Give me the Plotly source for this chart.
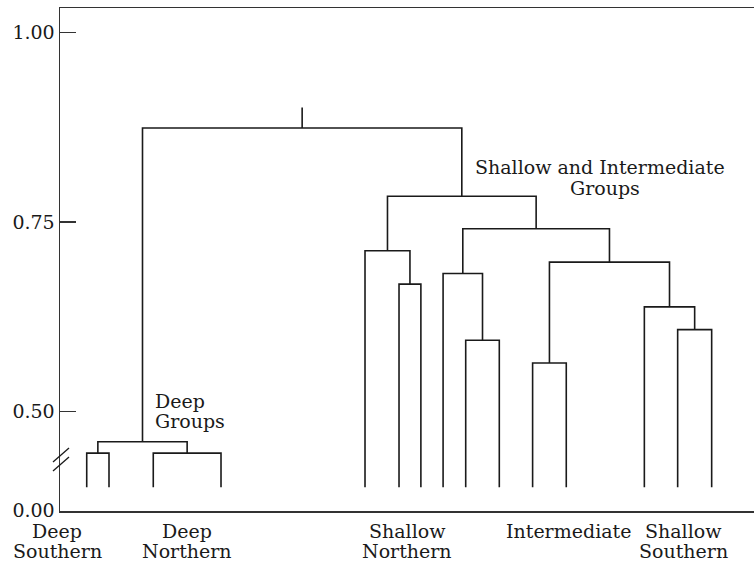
import plotly.graph_objects as go

# ---------------- data ----------------
# leaf positions along the horizontal axis (ordered left to right)
leaf_x = [3.85, 7.06, 13.44, 23.20, 43.95, 48.85, 52.00, 55.20,
          58.46, 63.30, 68.10, 72.95, 84.20, 89.00, 93.90]
leaf_base = 0.400          # leaves are truncated at the axis break

# merges: (child a, child b, similarity level); children >= 15 refer to earlier merges
merges = [
    (0, 1, 0.445),    # 15 Deep Southern
    (2, 3, 0.445),    # 16 Deep Northern
    (15, 16, 0.460),  # 17 Deep groups
    (5, 6, 0.668),    # 18
    (4, 18, 0.712),   # 19 Shallow Northern
    (8, 9, 0.594),    # 20
    (7, 20, 0.682),   # 21
    (10, 11, 0.564),  # 22 Intermediate
    (13, 14, 0.608),  # 23
    (12, 23, 0.638),  # 24 Shallow Southern
    (22, 24, 0.697),  # 25
    (21, 25, 0.741),  # 26
    (19, 26, 0.784),  # 27 Shallow and Intermediate groups
    (17, 27, 0.874),  # 28 root
]
root_stub = 0.901

group_names = [["Deep", "Southern"], ["Deep", "Northern"], ["Shallow", "Northern"],
               ["Intermediate"], ["Shallow", "Southern"]]
group_label_x = [-0.43, 18.30, 50.05, 73.20, 89.85]

tick_vals = [0.369, 0.50, 0.75, 1.00]
tick_text = ["0.00", "0.50", "0.75", "1.00"]

X_RANGE = [0, 100]
Y_RANGE = [0.3687, 1.0323]

# ---------------- build dendrogram segments ----------------
node_x = list(leaf_x)
node_h = [leaf_base] * len(leaf_x)
xs, ys = [], []
for a, b, h in merges:
    xa, xb = node_x[a], node_x[b]
    xs += [xa, xa, xb, xb, None]
    ys += [node_h[a], h, h, node_h[b], None]
    node_x.append((xa + xb) / 2)
    node_h.append(h)
# stub above root
xs += [node_x[-1], node_x[-1], None]
ys += [node_h[-1], root_stub, None]

INK = "#1a1a1a"
fig = go.Figure()
fig.add_trace(go.Scatter(x=xs, y=ys, mode="lines",
                         line=dict(color=INK, width=1.6),
                         hoverinfo="skip", showlegend=False))

FONT = "DejaVu Serif"
ann = []
# group labels under the axis
for name, gx in zip(group_names, group_label_x):
    px = (gx - X_RANGE[0]) / (X_RANGE[1] - X_RANGE[0])
    for i, line in enumerate(name):
        ann.append(dict(text=line, x=px, xref="paper", y=0, yref="paper",
                        yanchor="middle", xanchor="center", showarrow=False,
                        yshift=-20 - 20 * i,
                        font=dict(family=FONT, size=19, color=INK)))

# cluster annotations
ann.append(dict(text="Deep", x=13.4, y=0.514, xref="x", yref="y",
                xanchor="left", yanchor="middle", showarrow=False,
                font=dict(family=FONT, size=19, color=INK)))
ann.append(dict(text="Groups", x=13.4, y=0.4875, xref="x", yref="y",
                xanchor="left", yanchor="middle", showarrow=False,
                font=dict(family=FONT, size=19, color=INK)))
ann.append(dict(text="Shallow and Intermediate", x=77.8, y=0.822, xref="x", yref="y",
                xanchor="center", yanchor="middle", showarrow=False,
                font=dict(family=FONT, size=19, color=INK)))
ann.append(dict(text="Groups", x=78.5, y=0.7945, xref="x", yref="y",
                xanchor="center", yanchor="middle", showarrow=False,
                font=dict(family=FONT, size=19, color=INK)))

# axis break marks
shapes = []
for y0, y1 in [(0.0974, 0.1252), (0.0795, 0.1074)]:
    shapes.append(dict(type="line", xref="paper", yref="paper",
                       x0=-0.0101, x1=0.013, y0=y0, y1=y1,
                       line=dict(color=INK, width=1.3)))

fig.update_layout(
    width=754, height=564,
    margin=dict(l=60, r=0, t=8, b=53, autoexpand=False),
    paper_bgcolor="white", plot_bgcolor="white",
    showlegend=False,
    annotations=ann, shapes=shapes,
    xaxis=dict(range=X_RANGE, showgrid=False, zeroline=False,
               showticklabels=False, ticks="", automargin=False,
               showline=True, mirror=True, linecolor="#333333", linewidth=1.5),
    yaxis=dict(range=Y_RANGE, showgrid=False, zeroline=False, automargin=False,
               tickvals=tick_vals, ticktext=tick_text,
               ticks="inside", ticklen=16, tickcolor="#333333", tickwidth=1.2,
               tickfont=dict(family=FONT, size=19, color=INK),
               showline=True, mirror=False, linecolor="#333333", linewidth=1.5),
)

fig.write_html("out.html",
               config={"displayModeBar": False, "staticPlot": True},
               post_script="document.body.style.margin='0';document.body.style.overflow='hidden';")
